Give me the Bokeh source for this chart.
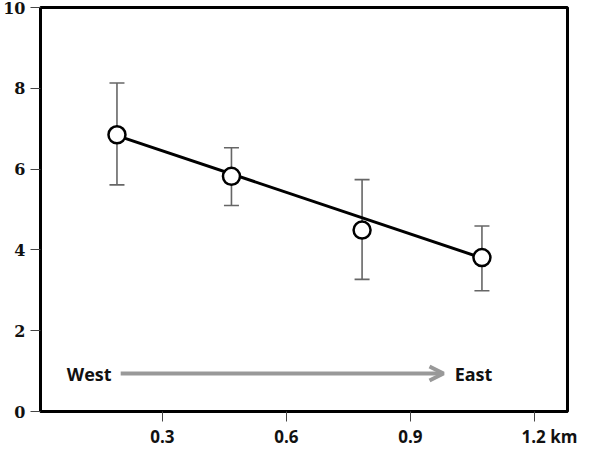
from bokeh.plotting import figure
from bokeh.models import (ColumnDataSource, Whisker, TeeHead, Arrow, OpenHead, Label,
                          FixedTicker, Range1d)
from bokeh.embed import file_html
from bokeh.resources import INLINE

# data
dist_km = [0.19, 0.467, 0.783, 1.073]
mean_val = [6.85, 5.82, 4.49, 3.81]
upper_val = [8.13, 6.53, 5.74, 4.59]
lower_val = [5.61, 5.10, 3.27, 2.99]
fit_x = [0.19, 1.073]
fit_y = [6.83, 3.80]
x_ticks = [0.3, 0.6, 0.9, 1.2]
x_tick_labels = ["0.3", "0.6", "0.9", "\u00a0" * 7 + "1.2\u00a0km"]
y_ticks = [0, 2, 4, 6, 8, 10]
arrow_start = 0.199
arrow_end = 0.98
arrow_y = 0.94

p = figure(width=577, height=450, output_backend="svg", toolbar_location=None,
           x_range=Range1d(0.005, 1.28), y_range=Range1d(0, 10),
           min_border_left=37, min_border_right=10, min_border_top=7, min_border_bottom=38)
p.grid.visible = False
p.outline_line_color = "black"
p.outline_line_width = 3
p.background_fill_color = "white"
p.border_fill_color = "white"

src = ColumnDataSource(dict(x=dist_km, y=mean_val, upper=upper_val, lower=lower_val))

w = Whisker(source=src, base="x", upper="upper", lower="lower",
            line_color="#666666", line_width=1.6,
            upper_head=TeeHead(size=15, line_color="#666666", line_width=1.6),
            lower_head=TeeHead(size=15, line_color="#666666", line_width=1.6))
p.add_layout(w)

p.line(fit_x, fit_y, line_color="black", line_width=3)
p.scatter("x", "y", source=src, size=17, fill_color="white", line_color="black", line_width=2.5)

# direction arrow
p.add_layout(Arrow(end=OpenHead(size=14, line_color="#999999", line_width=4),
                   x_start=arrow_start, y_start=arrow_y, x_end=arrow_end, y_end=arrow_y,
                   line_color="#999999", line_width=4))
p.add_layout(Label(x=arrow_start - 0.022, y=arrow_y, text="West", text_align="right",
                   text_baseline="middle", text_font="Open Sans", text_font_style="bold",
                   text_font_size="18px", text_color="#111111"))
p.add_layout(Label(x=arrow_end + 0.027, y=arrow_y, text="East", text_align="left",
                   text_baseline="middle", text_font="Open Sans", text_font_style="bold",
                   text_font_size="18px", text_color="#111111"))

# axes
p.xaxis.ticker = FixedTicker(ticks=x_ticks)
p.xaxis.major_label_overrides = {t: l for t, l in zip(x_ticks, x_tick_labels)}
p.yaxis.ticker = FixedTicker(ticks=y_ticks)
for ax in (p.xaxis[0], p.yaxis[0]):
    ax.axis_line_color = "black"
    ax.axis_line_width = 3
    ax.major_tick_out = 10
    ax.major_tick_in = 0
    ax.major_tick_line_color = "#444444"
    ax.major_tick_line_width = 1
    ax.minor_tick_line_color = None
    ax.major_label_text_font_style = "bold"
    ax.major_label_text_color = "#111111"
p.xaxis.major_label_text_font = "Open Sans"
p.xaxis.major_label_text_font_size = "17px"
p.xaxis.major_label_standoff = 3
p.yaxis.major_label_text_font = "DejaVu Serif"
p.yaxis.major_label_text_font_size = "16px"
p.yaxis.major_label_standoff = 5

open("out.html", "w").write(file_html(p, INLINE))
